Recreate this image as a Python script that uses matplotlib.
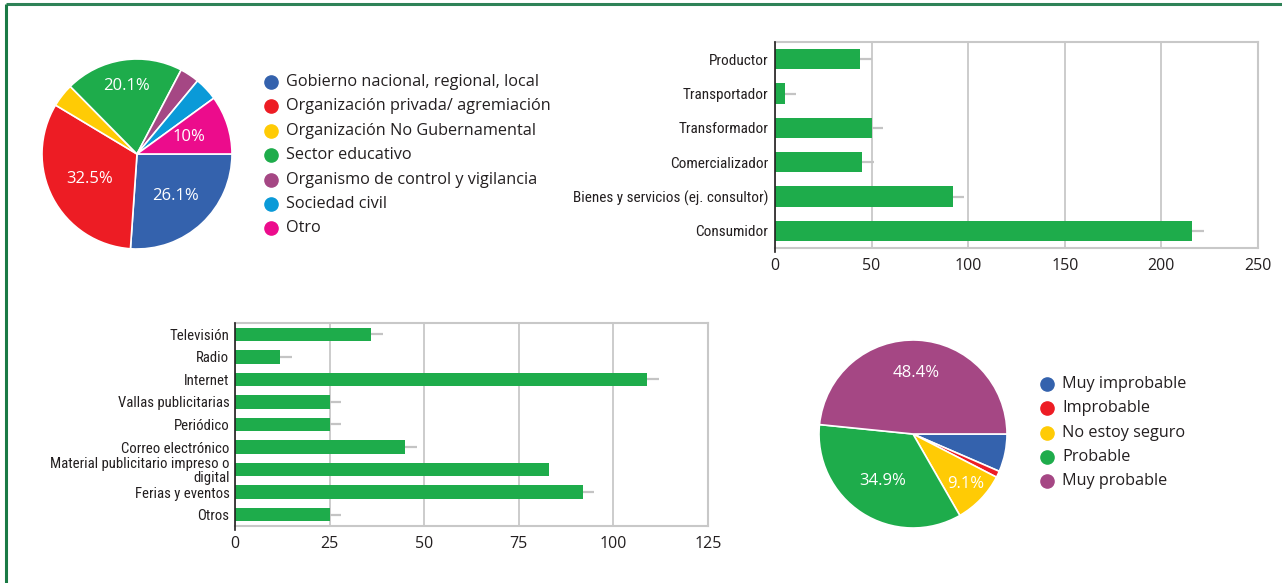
import numpy as np
import matplotlib
matplotlib.use('Agg')
import matplotlib.pyplot as plt
from matplotlib import font_manager

# ---------------- data ----------------
org_labels = ['Gobierno nacional, regional, local', 'Organización privada/ agremiación',
              'Organización No Gubernamental', 'Sector educativo',
              'Organismo de control y vigilancia', 'Sociedad civil', 'Otro']
org_values = [26.1, 32.5, 4.0, 20.1, 3.3, 4.0, 10.0]
org_pct_text = ['26.1%', '32.5%', '', '20.1%', '', '', '10%']

role_labels = ['Productor', 'Transportador', 'Transformador', 'Comercializador',
               'Bienes y servicios (ej. consultor)', 'Consumidor']
role_values = [44, 5, 50, 45, 92, 216]
role_err = [6, 6, 6, 6, 6, 6]
role_ticks = [0, 50, 100, 150, 200, 250]

media_labels = ['Televisión', 'Radio', 'Internet', 'Vallas publicitarias', 'Periódico',
                'Correo electrónico', 'Material publicitario impreso o\ndigital',
                'Ferias y eventos', 'Otros']
media_values = [36, 12, 109, 25, 25, 45, 83, 92, 25]
media_err = [3, 3, 3, 3, 3, 3, 0, 3, 3]
media_ticks = [0, 25, 50, 75, 100, 125]

like_labels = ['Muy improbable', 'Improbable', 'No estoy seguro', 'Probable', 'Muy probable']
like_values = [6.5, 1.1, 9.1, 34.9, 48.4]
like_pct_text = ['', '', '9.1%', '34.9%', '48.4%']

# ---------------- styles ----------------
BLUE, RED, YELLOW, GREEN = '#3462ad', '#ed1c24', '#ffcb05', '#1eac4b'
PURPLE, CYAN, PINK = '#a54784', '#0a9ad8', '#ec0c8c'
org_colors = [BLUE, RED, YELLOW, GREEN, PURPLE, CYAN, PINK]
like_colors = [BLUE, RED, YELLOW, GREEN, PURPLE]
TXT = '#231f20'
GRID = '#c8c8c8'
ERR = '#c4c4c4'

flist = font_manager.fontManager.ttflist
names = {f.name for f in flist}
COND_KW = None
for pref in ['Liberation Sans Narrow', 'Roboto Condensed', 'Open Sans Condensed',
             'Noto Sans Condensed', 'DejaVu Sans Condensed']:
    if pref in names:
        COND_KW = dict(family=pref)
        break
if COND_KW is None:
    narrow = sorted(n for n in names if 'Narrow' in n or 'Condensed' in n)
    if narrow:
        COND_KW = dict(family=narrow[0])
if COND_KW is None:
    cond_faces = [f for f in flist if str(f.stretch) in ('condensed', 'semi-condensed', '75', '87.5')
                  or (isinstance(f.stretch, int) and f.stretch < 100)]
    if cond_faces:
        COND_KW = dict(family=cond_faces[0].name, fontstretch='condensed')
COND_SCALE = 1.0
if COND_KW is None:
    COND_KW = dict(family='Liberation Sans' if 'Liberation Sans' in names else 'DejaVu Sans')
    COND_SCALE = 0.93
MAIN = 'Open Sans' if 'Open Sans' in names else 'DejaVu Sans'

W, H = 1282, 583
fig = plt.figure(figsize=(W / 100, H / 100), dpi=100)


def px_axes(l, t, r, b, **kw):
    return fig.add_axes([l / W, 1 - b / H, (r - l) / W, (b - t) / H], **kw)


# overlay for frame and legends (pixel coordinates)
ov = px_axes(0, 0, W, H)
ov.set_xlim(0, W)
ov.set_ylim(H, 0)
ov.axis('off')
ov.plot([6, W], [4, 4], color='#2e8257', lw=2.2, solid_capstyle='butt')
ov.plot([6, 6], [4, H], color='#1a7a45', lw=2.2, solid_capstyle='butt')


def draw_pie(center, r, values, colors, texts, radii):
    cx, cy = center
    ax = px_axes(cx - r - 2, cy - r - 2, cx + r + 2, cy + r + 2)
    wedges, _ = ax.pie(values, colors=colors, startangle=0, counterclock=False,
                       wedgeprops=dict(edgecolor='white', linewidth=1.2))
    lim = (r + 2) / r
    ax.set_xlim(-lim, lim)
    ax.set_ylim(-lim, lim)
    for w, t, rr in zip(wedges, texts, radii):
        if t:
            ang = np.deg2rad((w.theta1 + w.theta2) / 2)
            ax.text(rr * np.cos(ang), rr * np.sin(ang), t, color='white',
                    fontsize=12, family=MAIN, ha='center', va='center')
    return ax


def draw_legend(x_marker, x_text, y0, dy, labels, colors):
    for i, (lab, col) in enumerate(zip(labels, colors)):
        y = y0 + i * dy
        ov.plot([x_marker], [y], marker='o', ms=9.5, color=col, mec=col)
        ov.text(x_text, y, lab, fontsize=11.7, family=MAIN, color=TXT, va='center', ha='left')


draw_pie((137, 154), 95, org_values, org_colors, org_pct_text,
         [0.6, 0.56, 0.6, 0.72, 0.6, 0.6, 0.58])
draw_legend(271, 286, 82, 24.4, org_labels, org_colors)

draw_pie((913, 434), 94, like_values, like_colors, like_pct_text,
         [0.6, 0.6, 0.77, 0.6, 0.65])
draw_legend(1047, 1062, 384, 24.3, like_labels, like_colors)


def draw_bars(box, labels, values, err, ticks, fs, ls, ypad):
    ax = px_axes(*box)
    n = len(labels)
    y = np.arange(n)
    ax.barh(y, values, height=0.6, color=GREEN, zorder=3,
            xerr=err, error_kw=dict(ecolor=ERR, elinewidth=1.6, capsize=0, zorder=2))
    ax.set_ylim(n - 0.5, -0.5)
    ax.set_xlim(ticks[0], ticks[-1])
    ax.set_xticks(ticks)
    ax.set_yticks(y)
    ax.set_yticklabels(labels, fontsize=fs * COND_SCALE, color=TXT, linespacing=ls, **COND_KW)
    ax.set_xticklabels([str(t) for t in ticks], family=MAIN, fontsize=11.5, color=TXT)
    ax.xaxis.grid(True, color=GRID, lw=1.3, zorder=0)
    ax.set_axisbelow(True)
    for s in ('top', 'right', 'bottom'):
        ax.spines[s].set_color(GRID)
        ax.spines[s].set_linewidth(1.5)
    ax.spines['left'].set_color(TXT)
    ax.spines['left'].set_linewidth(1.2)
    ax.spines['left'].set_zorder(4)
    # left axis line reaches a little below the plot frame
    box_h = box[3] - box[1]
    ax.spines['left'].set_bounds(-0.5, n - 0.5 + 4.0 * n / box_h)
    ax.tick_params(axis='both', length=0)
    ax.tick_params(axis='x', pad=7)
    ax.tick_params(axis='y', pad=ypad)
    return ax


draw_bars((775, 42, 1258, 248), role_labels, role_values, role_err, role_ticks, 11, 0.9, 5)
draw_bars((235, 323, 708, 526), media_labels, media_values, media_err, media_ticks, 10.6, 0.95, 4)

fig.savefig('out.png', dpi=100, facecolor='white')
